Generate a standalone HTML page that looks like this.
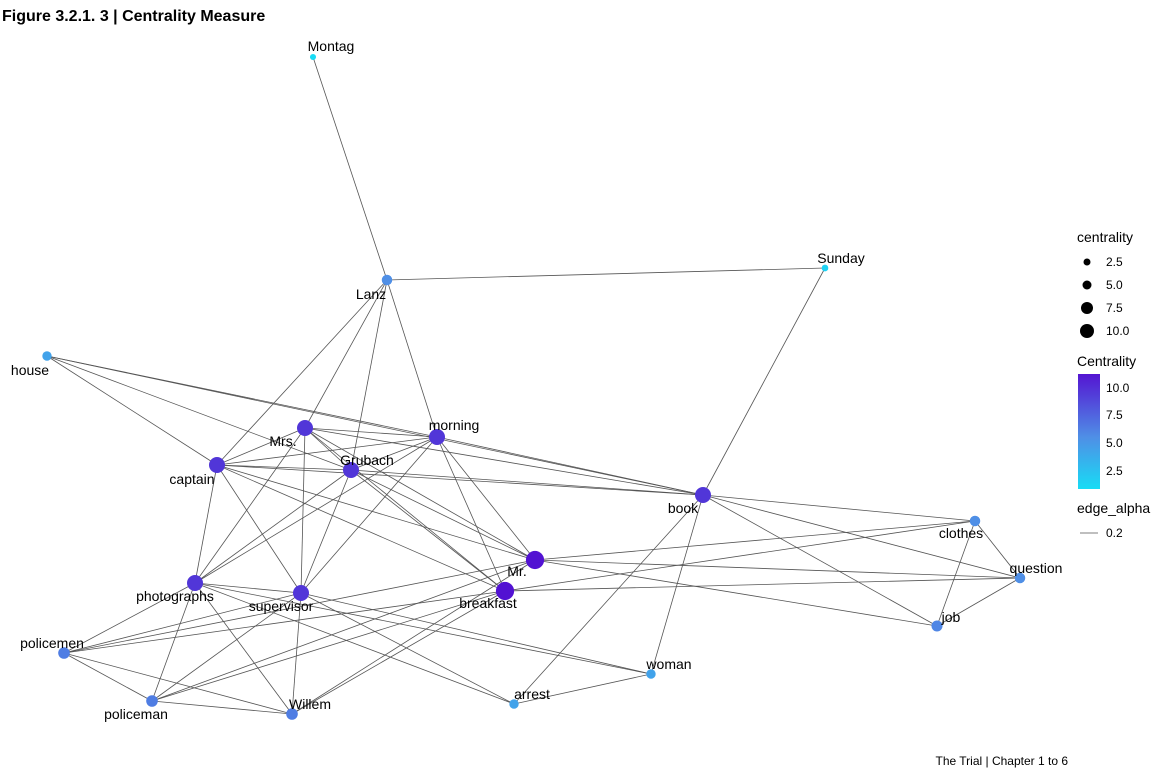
<!DOCTYPE html>
<html><head><meta charset="utf-8"><style>
body{margin:0;background:#fff;font-family:"Liberation Sans",Arial,sans-serif}
svg text{font-family:"Liberation Sans",Arial,sans-serif}
</style></head><body>
<svg id="c" width="1152" height="768">
<defs><linearGradient id="cb" x1="0" y1="1" x2="0" y2="0">
<stop offset="0" stop-color="#18dcf5"/><stop offset="0.45" stop-color="#4f8fe6"/><stop offset="1" stop-color="#5415d2"/></linearGradient></defs>
<text x="2" y="21" font-size="16" font-weight="bold" fill="#000">Figure 3.2.1. 3  | Centrality Measure</text>
<g id="edges"></g>
<g id="nodes"></g>
<g id="labels"></g>
<g font-size="12">
<text x="1077" y="242" font-size="14">centrality</text>
<circle cx="1087" cy="262" r="3.5" fill="#000"/><text x="1106" y="266">2.5</text>
<circle cx="1087" cy="285" r="4.5" fill="#000"/><text x="1106" y="289">5.0</text>
<circle cx="1087" cy="308" r="6" fill="#000"/><text x="1106" y="312">7.5</text>
<circle cx="1087" cy="331" r="7" fill="#000"/><text x="1106" y="335">10.0</text>
<text x="1077" y="366" font-size="14">Centrality</text>
<rect x="1078" y="374" width="22" height="115" fill="url(#cb)"/>
<text x="1106" y="392">10.0</text>
<text x="1106" y="419">7.5</text>
<text x="1106" y="447">5.0</text>
<text x="1106" y="475">2.5</text>
<text x="1077" y="513" font-size="14">edge_alpha</text>
<line x1="1080" y1="533" x2="1098" y2="533" stroke="#555" stroke-width="0.8"/>
<text x="1106" y="537">0.2</text>
</g>
<text x="1068" y="765" font-size="12" text-anchor="end">The Trial | Chapter 1 to 6</text>
</svg>
<script>
const nodeNames=["Montag","Lanz","Sunday","house","Mrs.","morning","captain","Grubach","book","Mr.","breakfast","photographs","supervisor","clothes","question","job","policemen","woman","arrest","policeman","Willem"];
const nodeX=[313,387,825,47,305,437,217,351,703,535,505,195,301,975,1020,937,64,651,514,152,292];
const nodeY=[57,280,268,356,428,437,465,470,495,560,591,583,593,521,578,626,653,674,704,701,714];
const centrality=[1,5,1.5,4,10,10,10,10,10,12,12,10,10,5,5,5.5,6,4,4,6,6];
const labelDX=[18,-16,16,-17,-22,17,-25,16,-20,-18,-17,-20,-20,-14,16,14,-12,18,18,-16,18];
const labelDY=[-6,19,-5,19,18,-7,19,-5,18,16,17,18,18,17,-5,-4,-5,-5,-5,18,-5];
const edges=[["Montag","Lanz"],["Lanz","Sunday"],["Sunday","book"],["Lanz","captain"],["Lanz","Mrs."],["Lanz","Grubach"],["Lanz","morning"],
["house","captain"],["house","Grubach"],["house","morning"],["house","book"],
["Mrs.","captain"],["Mrs.","morning"],["Mrs.","Grubach"],["Mrs.","book"],["Mrs.","Mr."],["Mrs.","breakfast"],["Mrs.","supervisor"],["Mrs.","photographs"],
["morning","captain"],["morning","Grubach"],["morning","book"],["morning","Mr."],["morning","breakfast"],["morning","supervisor"],["morning","photographs"],
["captain","Grubach"],["captain","book"],["captain","Mr."],["captain","breakfast"],["captain","supervisor"],["captain","photographs"],
["Grubach","book"],["Grubach","Mr."],["Grubach","breakfast"],["Grubach","supervisor"],["Grubach","photographs"],
["book","clothes"],["book","question"],["book","job"],["book","woman"],["book","arrest"],
["Mr.","clothes"],["Mr.","question"],["Mr.","job"],["Mr.","policemen"],["Mr.","policeman"],["Mr.","Willem"],
["breakfast","question"],["breakfast","clothes"],["breakfast","policemen"],["breakfast","policeman"],["breakfast","Willem"],
["photographs","supervisor"],["photographs","policemen"],["photographs","policeman"],["photographs","Willem"],["photographs","woman"],["photographs","arrest"],
["supervisor","Willem"],["supervisor","policemen"],["supervisor","policeman"],["supervisor","arrest"],["supervisor","woman"],
["policemen","policeman"],["policemen","Willem"],["policeman","Willem"],
["clothes","question"],["clothes","job"],["question","job"],["woman","arrest"]];
const NS="http://www.w3.org/2000/svg";
function idx(n){return nodeNames.indexOf(n);}
function rad(c){return 2.5+c*0.55;}
function lerp(a,b,t){return a.map((v,i)=>Math.round(v+(b[i]-v)*t));}
function col(c){const s=[[1,[24,220,245]],[5,[79,143,230]],[12,[82,18,210]]];
 let r=c<=5?lerp(s[0][1],s[1][1],(c-1)/4):lerp(s[1][1],s[2][1],Math.min(1,(c-5)/7));return "rgb("+r.join(",")+")";}
const eg=document.getElementById("edges"),ng=document.getElementById("nodes"),lg=document.getElementById("labels");
edges.forEach(e=>{const a=idx(e[0]),b=idx(e[1]);const l=document.createElementNS(NS,"line");
l.setAttribute("x1",nodeX[a]);l.setAttribute("y1",nodeY[a]);l.setAttribute("x2",nodeX[b]);l.setAttribute("y2",nodeY[b]);
l.setAttribute("stroke","#555");l.setAttribute("stroke-width","0.8");


eg.appendChild(l);});
nodeNames.forEach((n,i)=>{const c=document.createElementNS(NS,"circle");
c.setAttribute("cx",nodeX[i]);c.setAttribute("cy",nodeY[i]);c.setAttribute("r",rad(centrality[i]));c.setAttribute("fill",col(centrality[i]));


ng.appendChild(c);
const t=document.createElementNS(NS,"text");t.setAttribute("x",nodeX[i]+labelDX[i]);t.setAttribute("y",nodeY[i]+labelDY[i]);
t.setAttribute("text-anchor","middle");t.setAttribute("font-size","14");t.textContent=n;


lg.appendChild(t);});
</script>
</body></html>
